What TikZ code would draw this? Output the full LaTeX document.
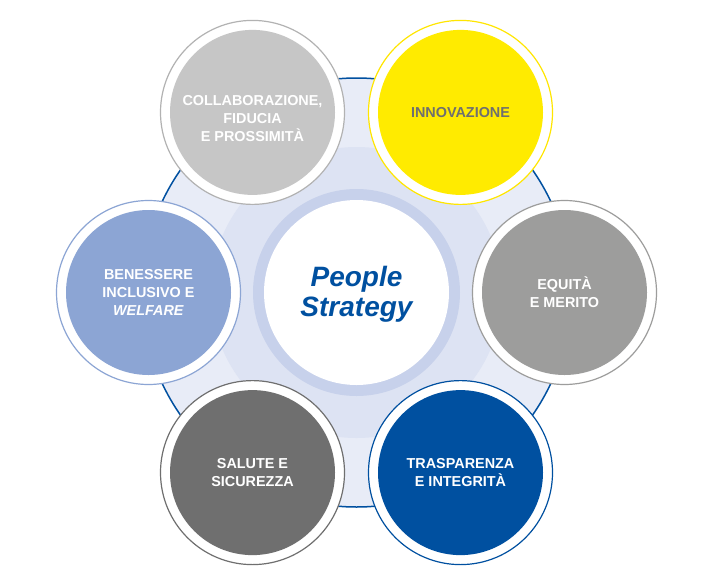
\documentclass[tikz,border=0pt]{standalone}
\usepackage{fontspec}
\setmainfont{Liberation Sans}
\definecolor{bgA}{HTML}{E8ECF7}
\definecolor{bgB}{HTML}{DDE3F3}
\definecolor{ringC}{HTML}{C7D1EB}
\definecolor{pblue}{HTML}{0050A0}
\definecolor{lgrey}{HTML}{C6C6C6}
\definecolor{lgreyS}{HTML}{B2B2B2}
\definecolor{yell}{HTML}{FFEB00}
\definecolor{yellS}{HTML}{FFE600}
\definecolor{lblue}{HTML}{8CA5D4}
\definecolor{mgrey}{HTML}{9D9D9C}
\definecolor{dgrey}{HTML}{6F6F6F}
\tikzset{
  halo/.style={circle, minimum size=184pt, inner sep=0pt, fill=white, line width=1.2pt},
  disc/.style={circle, minimum size=165pt, inner sep=0pt},
  label/.style={align=center, text=white, inner sep=0pt,
    font=\fontsize{14.4}{18}\selectfont\bfseries},
}
\begin{document}
\begin{tikzpicture}[x=1pt,y=-1pt]
\useasboundingbox (0,0) rectangle (712,584);
\fill[white] (0,0) rectangle (712,584);
\coordinate (C) at (356.5,292.5);
\filldraw[fill=bgA, draw=pblue, line width=1.5pt] (C) circle (214.5);
\fill[bgB] (C) circle (145.5);
\fill[ringC] (C) circle (103.5);
\fill[white] (C) circle (92.5);
\node[font=\fontsize{28}{30}\selectfont\bfseries\itshape, text=pblue, align=center] (ps) at (356.5,294.5) {People\\Strategy};

\node[halo, draw=lgreyS] (h1) at (252.5,112.4) {};
\node[disc, fill=lgrey] (d1) at (h1) {};
\node[label] (n1) at ([yshift=-6pt]h1.center) {COLLABORAZIONE,\\FIDUCIA\\E PROSSIMITÀ};
\node[halo, draw=yellS] (h2) at (460.5,112.4) {};
\node[disc, fill=yell] (d2) at (h2) {};
\node[label, text=dgrey] (n2) at (h2) {INNOVAZIONE};
\node[halo, draw=lblue] (h3) at (148.5,292.5) {};
\node[disc, fill=lblue] (d3) at (h3) {};
\node[label] (n3) at (h3) {BENESSERE\\INCLUSIVO E\\\textit{WELFARE}};
\node[halo, draw=mgrey] (h4) at (564.5,292.5) {};
\node[disc, fill=mgrey] (d4) at (h4) {};
\node[label] (n4) at (h4) {EQUITÀ\\E MERITO};
\node[halo, draw=dgrey] (h5) at (252.5,472.6) {};
\node[disc, fill=dgrey] (d5) at (h5) {};
\node[label] (n5) at (h5) {SALUTE E\\SICUREZZA};
\node[halo, draw=pblue] (h6) at (460.5,472.6) {};
\node[disc, fill=pblue] (d6) at (h6) {};
\node[label] (n6) at (h6) {TRASPARENZA\\E INTEGRITÀ};
\end{tikzpicture}
\end{document}
